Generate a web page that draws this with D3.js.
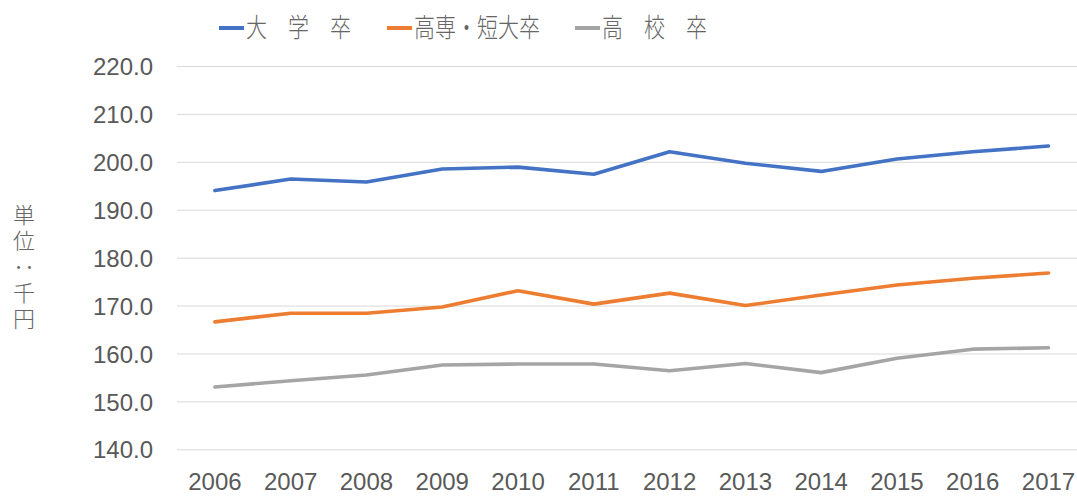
<!DOCTYPE html>
<html><head><meta charset="utf-8">
<script src="https://cdn.jsdelivr.net/npm/d3@7"></script>
<style>
html,body{margin:0;padding:0;background:#fff;}
svg{display:block;}
</style></head>
<body>
<svg id="chart" width="1077" height="497"></svg>
<script>
const years = ["2006","2007","2008","2009","2010","2011","2012","2013","2014","2015","2016","2017"];
const univ   = [194.0,196.4,195.8,198.5,198.9,197.4,202.1,199.7,198.0,200.6,202.1,203.3];
const junior = [166.6,168.4,168.4,169.7,173.1,170.3,172.6,170.0,172.2,174.3,175.7,176.8];
const high   = [153.0,154.3,155.5,157.6,157.8,157.8,156.4,157.9,156.0,159.0,160.9,161.2];
const seriesNames = ["大　学　卒","高専・短大卒","高　校　卒"];
const seriesColors = ["#4472C4","#ED7D31","#A5A5A5"];
const yTicks = [140,150,160,170,180,190,200,210,220];
const yLabel = "単位：千円";

const svg = d3.select("#chart");
const x = d3.scaleBand().domain(years).range([177, 1086.4]).padding(0);
const y = d3.scaleLinear().domain([140,220]).range([449.3, 66]);
const cx = d => x(d) + x.bandwidth()/2;
const textColor = "#595959";
const font = "'Liberation Sans', Arial, sans-serif";
const cjk = "'Noto Sans CJK JP', sans-serif";

// gridlines
const yAxis = d3.axisLeft(y).tickValues(yTicks).tickSize(-(1086.4-177)).tickFormat(d3.format(".1f")).tickPadding(24);
const gy = svg.append("g").attr("transform","translate(177,0)").call(yAxis);
gy.select(".domain").remove();
gy.selectAll(".tick line").attr("stroke","#d9d9d9").attr("stroke-width",1);
gy.selectAll(".tick text").attr("fill",textColor).style("font-family",font).style("font-size","24px").attr("dy","0.36em");

// x axis labels
const xAxis = d3.axisBottom(x).tickSize(0).tickPadding(0);
const gx = svg.append("g").attr("transform","translate(0,465)").call(xAxis);
gx.select(".domain").remove();
gx.selectAll(".tick text").attr("fill",textColor).style("font-family",font).style("font-size","24px").attr("dy","0.71em").attr("y",8);

// lines
const data = [univ, junior, high];
const line = d3.line().x((d,i)=>cx(years[i])).y(d=>y(d));
data.forEach((vals,k)=>{
  svg.append("path").datum(vals).attr("d",line).attr("fill","none")
    .attr("stroke",seriesColors[k]).attr("stroke-width",3.6)
    .attr("stroke-linejoin","round").attr("stroke-linecap","round");
});

// legend
const legendX = [219, 387, 575];
seriesNames.forEach((name,k)=>{
  const g = svg.append("g").attr("transform",`translate(${legendX[k]},28)`);
  g.append("line").attr("x1",0).attr("x2",25).attr("y1",0).attr("y2",0)
    .attr("stroke",seriesColors[k]).attr("stroke-width",4);
  g.append("text").attr("x",27).attr("y",0).attr("dy","0.36em")
    .attr("fill","#666").style("font-family",cjk).style("font-size","21px").style("font-weight","300")
    .attr("transform","scale(1,1.25)")
    .text(name);
});

// y label (vertical)
svg.append("text").attr("x",24).attr("y",204)
  .style("writing-mode","vertical-rl").style("text-orientation","upright")
  .style("font-family",cjk).style("font-size","22px").style("font-weight","300").attr("fill","#666")
  .attr("letter-spacing","4px")
  .text(yLabel);
</script>
</body></html>
